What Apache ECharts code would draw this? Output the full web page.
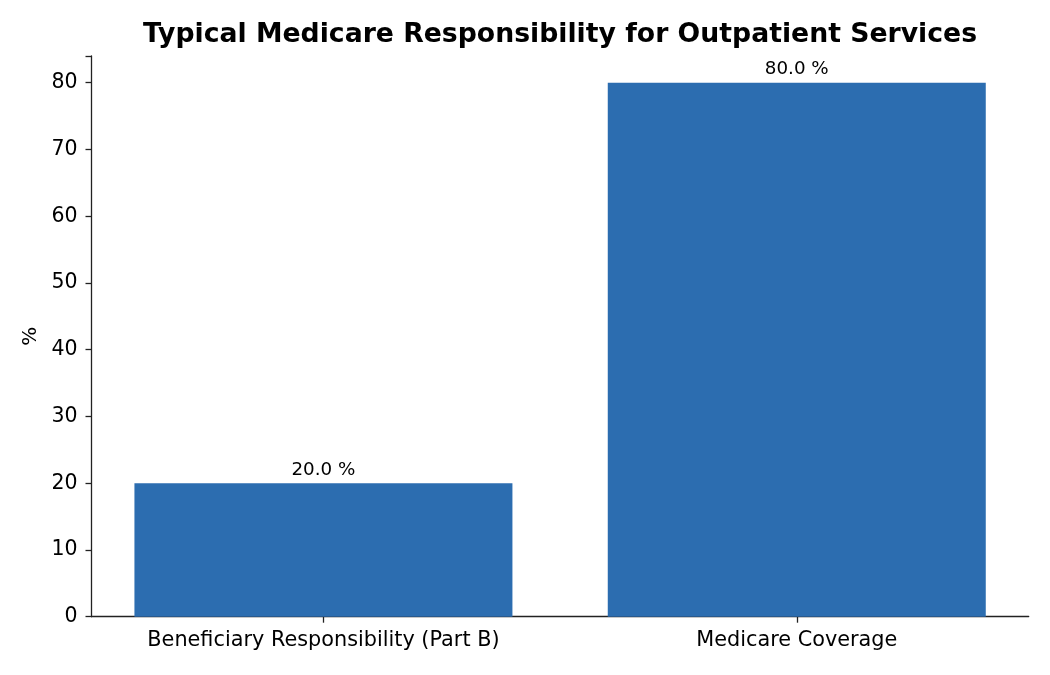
<!DOCTYPE html>
<html><head><meta charset="utf-8">
<script src="https://cdn.jsdelivr.net/npm/echarts@6/dist/echarts.min.js"></script>
<style>html,body{margin:0;padding:0;background:#fff}#c{width:1050px;height:675px}</style>
</head><body><div id="c"></div>
<script>
const categories = ["Beneficiary Responsibility (Part B)", "Medicare Coverage"];
const values = [20.0, 80.0];
const yTicks = [0, 10, 20, 30, 40, 50, 60, 70, 80];

const positions = categories.map((c, i) => i);
const chart = echarts.init(document.getElementById('c'));
const font = '"DejaVu Sans"';
chart.setOption({
  animation: false,
  title: {
    text: 'Typical Medicare Responsibility for Outpatient Services',
    left: 555, top: 17, textAlign: 'center',
    textStyle: {fontFamily: font, fontSize: 26.7, fontWeight: 'bold', color: '#000'}
  },
  grid: {left: 91.5, right: 21.3, top: 56, bottom: 58.3, containLabel: false},
  xAxis: {
    type: 'value', min: -0.49, max: 1.49,
    axisLine: {show: true, onZero: false, lineStyle: {color: '#222', width: 1.3}},
    axisTick: {show: true, customValues: positions, length: 6, lineStyle: {color: '#222', width: 1.3}},
    axisLabel: {customValues: positions, fontFamily: font, fontSize: 20.8, color: '#000', margin: 13,
      formatter: v => categories[Math.round(v)] || ''},
    splitLine: {show: false}
  },
  yAxis: {
    type: 'value', min: 0, max: 84, interval: 10,
    name: '%', nameLocation: 'middle', nameGap: 47, nameRotate: 90,
    nameTextStyle: {fontFamily: font, fontSize: 20, color: '#000'},
    axisLine: {show: true, onZero: false, lineStyle: {color: '#222', width: 1.3}},
    axisTick: {show: true, length: 6, lineStyle: {color: '#222', width: 1.3}},
    axisLabel: {fontFamily: font, fontSize: 20.5, color: '#000', margin: 14,
      formatter: v => yTicks.includes(v) ? String(v) : ''},
    splitLine: {show: false}
  },
  series: [{
    type: 'bar', data: values.map((v, i) => [positions[i], v]), barWidth: 378,
    itemStyle: {color: '#2c6db0'},
    label: {show: true, position: 'top', distance: 4, fontFamily: font, fontSize: 18.3, color: '#000',
      formatter: p => p.value[1].toFixed(1) + ' %'}
  }]
});
</script></body></html>
